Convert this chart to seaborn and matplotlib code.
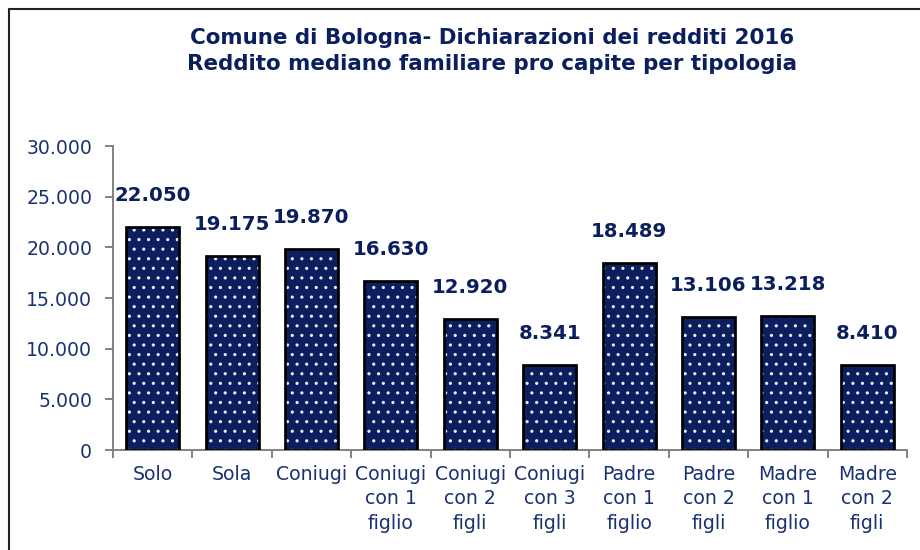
import numpy as np
import pandas as pd
import matplotlib
matplotlib.use('Agg')
import matplotlib.pyplot as plt
from matplotlib.patches import Rectangle
from matplotlib.lines import Line2D
from matplotlib.ticker import FuncFormatter, FixedLocator
import seaborn as sns

# --- dati ---
tipologie = ['Solo', 'Sola', 'Coniugi', 'Coniugi\ncon 1\nfiglio', 'Coniugi\ncon 2\nfigli',
             'Coniugi\ncon 3\nfigli', 'Padre\ncon 1\nfiglio', 'Padre\ncon 2\nfigli',
             'Madre\ncon 1\nfiglio', 'Madre\ncon 2\nfigli']
reddito = [22050, 19175, 19870, 16630, 12920, 8341, 18489, 13106, 13218, 8410]
titolo = ('Comune di Bologna- Dichiarazioni dei redditi 2016\n'
          'Reddito mediano familiare pro capite per tipologia')

df = pd.DataFrame({'Tipologia': tipologie, 'Reddito': reddito})

NAVY = '#0b1f5e'
TEXT = '#1b3272'
DPI = 115

sns.set_theme(style='white')
plt.rcParams['font.family'] = ['DejaVu Sans']
plt.rcParams['hatch.linewidth'] = 0.8

fig = plt.figure(figsize=(920 / DPI, 550 / DPI), dpi=DPI)
ax = fig.add_axes([113 / 920, 1 - 450 / 550, (907 - 113) / 920, (450 - 146) / 550])

sns.barplot(data=df, x='Tipologia', y='Reddito', color=NAVY, saturation=1,
            width=0.67, edgecolor='#e8ecf4', linewidth=0, ax=ax)

# puntini bianchi + bordo nero
for p in ax.patches:
    p.set_hatch('..')
    ax.add_patch(Rectangle((p.get_x(), p.get_y()), p.get_width(), p.get_height(),
                           fill=False, edgecolor='black', linewidth=1.7, zorder=3))
    ax.annotate(f'{p.get_height():,.0f}'.replace(',', '.'),
                (p.get_x() + p.get_width() / 2, p.get_height()),
                xytext=(0, 22), textcoords='offset pixels', ha='center', va='bottom',
                fontsize=12.4, fontweight='bold', color=NAVY)

ax.set_xlim(-0.5, len(tipologie) - 0.5)
ax.set_ylim(0, 30000)
ax.set_yticks(np.arange(0, 30001, 5000))
ax.yaxis.set_major_formatter(FuncFormatter(lambda v, _: f'{v:,.0f}'.replace(',', '.')))
ax.xaxis.set_minor_locator(FixedLocator(np.arange(-0.5, len(tipologie), 1)))
ax.tick_params(axis='x', which='major', length=0, pad=9.5, labelsize=11.8, labelcolor=TEXT)
ax.tick_params(axis='x', which='minor', length=5, width=1.2, color='#808080', direction='out', bottom=True)
ax.tick_params(axis='y', length=5, width=1.2, color='#808080', direction='out', left=True,
               labelsize=11.8, labelcolor=TEXT, pad=8)
for lab in ax.get_xticklabels():
    lab.set_linespacing(1.35)
ax.set_xlabel('')
ax.set_ylabel('')

for s in ['top', 'right']:
    ax.spines[s].set_visible(False)
for s in ['left', 'bottom']:
    ax.spines[s].set_color('#808080')
    ax.spines[s].set_linewidth(1.2)

fig.text(0.535, 1 - 51 / 550, titolo, ha='center', va='center', fontsize=13.4,
         fontweight='bold', color=NAVY, linespacing=1.4)

# cornice
fig.add_artist(Line2D([9 / 920, 1], [1 - 9 / 550] * 2, color='#222222', lw=1.3))
fig.add_artist(Line2D([9 / 920] * 2, [0, 1 - 9 / 550], color='#222222', lw=1.3))

fig.savefig('out.png', dpi=DPI)
plt.close(fig)
